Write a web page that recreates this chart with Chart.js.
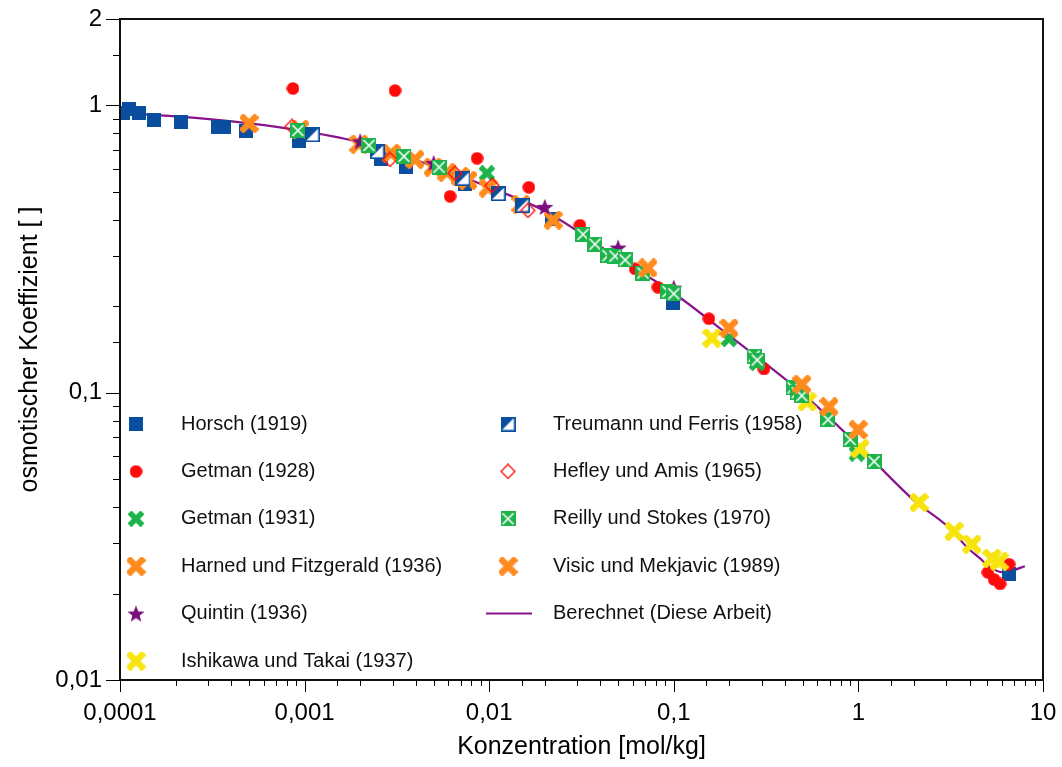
<!DOCTYPE html>
<html>
<head>
<meta charset="utf-8">
<script src="https://cdn.jsdelivr.net/npm/chart.js@4.4.1/dist/chart.umd.min.js"></script>
<style>
  body { margin: 0; background: #fff; }
  #wrap { width: 1062px; height: 767px; }
</style>
</head>
<body>
<div id="wrap"><canvas id="phiChart" width="1062" height="767"></canvas></div>
<script>
// Konzentration [mol/kg] / osmotischer Koeffizient
const horschConc = [1.04e-4, 1.12e-4, 1.27e-4, 1.53e-4, 2.14e-4, 3.4e-4, 3.66e-4, 4.82e-4, 9.3e-4, 2.6e-3, 3.54e-3, 7.4e-3, 0.0219, 0.099, 6.55];
const horschPhi  = [0.94, 0.97, 0.94, 0.89, 0.873, 0.84, 0.84, 0.813, 0.755, 0.649, 0.61, 0.532, 0.402, 0.205, 0.0233];

const getman28Conc = [8.65e-4, 3.09e-3, 6.14e-3, 8.6e-3, 0.0164, 0.031, 0.0617, 0.082, 0.155, 0.308, 5.03, 5.43, 5.85, 6.55];
const getman28Phi  = [1.146, 1.127, 0.483, 0.655, 0.519, 0.383, 0.27, 0.233, 0.181, 0.121, 0.0237, 0.0224, 0.0216, 0.0253];

const getman31Conc = [9.72e-3, 0.199, 0.283, 0.98];
const getman31Phi  = [0.581, 0.154, 0.127, 0.0614];

const harnedConc = [5.0e-4, 9.44e-4, 1.97e-3, 2.94e-3, 3.96e-3, 4.97e-3, 5.9e-3, 6.95e-3, 7.67e-3, 9.86e-3, 0.01486, 0.0222];
const harnedPhi  = [0.866, 0.826, 0.733, 0.681, 0.649, 0.61, 0.585, 0.566, 0.549, 0.516, 0.453, 0.399];

const quintinConc = [2.0e-3, 5.0e-3, 0.02, 0.0499, 0.1];
const quintinPhi  = [0.75, 0.63, 0.443, 0.32, 0.232];

const ishikawaConc = [0.161, 0.527, 1.02, 2.13, 3.3, 4.12, 5.29, 5.78];
const ishikawaPhi  = [0.155, 0.093, 0.064, 0.0415, 0.0329, 0.0297, 0.0265, 0.0259];

const treumannConc = [1.1e-3, 2.47e-3, 7.21e-3, 0.01117, 0.0151];
const treumannPhi  = [0.792, 0.692, 0.558, 0.494, 0.45];

const hefleyConc = [8.55e-4, 2.9e-3, 6.53e-3, 0.01035, 0.0162];
const hefleyPhi  = [0.845, 0.649, 0.581, 0.527, 0.431];

const reillyConc = [9.2e-4, 2.23e-3, 3.45e-3, 5.35e-3, 0.0322, 0.0374, 0.044, 0.048, 0.0545, 0.068, 0.093, 0.1, 0.272, 0.283, 0.443, 0.466, 0.494, 0.684, 0.902, 1.216];
const reillyPhi  = [0.818, 0.726, 0.665, 0.61, 0.356, 0.329, 0.3, 0.299, 0.29, 0.261, 0.225, 0.221, 0.134, 0.13, 0.104, 0.1, 0.0977, 0.0806, 0.0687, 0.0576];

const visicConc = [0.0724, 0.199, 0.494, 0.693, 0.996];
const visicPhi  = [0.272, 0.168, 0.107, 0.0894, 0.0744];

// Berechnet (Diese Arbeit)
const calcConc = [1e-4, 2e-4, 5e-4, 1e-3, 2e-3, 5e-3, 0.01, 0.02, 0.05, 0.1, 0.2, 0.5, 1, 2, 3.13, 3.87, 4.56, 5.16, 6.07, 6.88, 7.98];
const calcPhi  = [0.94, 0.916, 0.866, 0.813, 0.744, 0.614, 0.519, 0.429, 0.294, 0.222, 0.158, 0.0993, 0.0655, 0.0422, 0.0337, 0.029, 0.0265, 0.0247, 0.0237, 0.0241, 0.0249];

const xTickValues = [1e-4, 1e-3, 1e-2, 0.1, 1, 10];
const xTickLabels = ['0,0001', '0,001', '0,01', '0,1', '1', '10'];
const yTickValues = [0.01, 0.1, 1, 2];
const yTickLabels = ['0,01', '0,1', '1', '2'];

const BLUE = '#0a4f9f', RED = '#ff0a0a', GREEN = '#1db34b', ORANGE = '#ff8b1e';
const STAR = '#780f7c', YELLOW = '#f7e40f', LINE = '#86148a';

function pts(xs, ys) { return xs.map((x, i) => ({ x: x, y: ys[i] })); }

function marker(size, draw) {
  const c = document.createElement('canvas');
  c.width = size; c.height = size;
  draw(c.getContext('2d'), size);
  return c;
}
function cross(color, size, w) {
  return marker(size, (g, s) => {
    g.strokeStyle = color; g.lineWidth = w;
    g.beginPath();
    g.moveTo(1.5, 1.5); g.lineTo(s - 1.5, s - 1.5);
    g.moveTo(s - 1.5, 1.5); g.lineTo(1.5, s - 1.5);
    g.stroke();
  });
}
const mSquare = marker(14, (g, s) => { g.fillStyle = BLUE; g.fillRect(0, 0, s, s); });
const mCircle = marker(13, (g, s) => { g.fillStyle = RED; g.beginPath(); g.arc(s / 2, s / 2, s / 2 - 0.2, 0, Math.PI * 2); g.fill(); });
const mGreenX = cross(GREEN, 16, 5.5);
const mOrangeX = cross(ORANGE, 19, 6.5);
const mYellowX = cross(YELLOW, 19, 6.5);
const mStar = marker(18, (g, s) => {
  g.fillStyle = STAR; g.beginPath();
  for (let i = 0; i < 10; i++) {
    const r = i % 2 ? 3.8 : 9;
    const a = -Math.PI / 2 + i * Math.PI / 5;
    g.lineTo(s / 2 + r * Math.cos(a), s / 2 + 0.8 + r * Math.sin(a));
  }
  g.closePath(); g.fill();
});
const mHalf = marker(15, (g, s) => {
  g.fillStyle = '#fff'; g.fillRect(0, 0, s, s);
  g.fillStyle = BLUE; g.beginPath(); g.moveTo(0, 0); g.lineTo(s, 0); g.lineTo(0, s); g.closePath(); g.fill();
  g.strokeStyle = BLUE; g.lineWidth = 1.6; g.strokeRect(0.8, 0.8, s - 1.6, s - 1.6);
});
const mDiamond = marker(16, (g, s) => {
  g.strokeStyle = RED; g.lineWidth = 1.3; g.beginPath();
  g.moveTo(s / 2, 1); g.lineTo(s - 1, s / 2); g.lineTo(s / 2, s - 1); g.lineTo(1, s / 2);
  g.closePath(); g.stroke();
});
const mBoxX = marker(15, (g, s) => {
  g.fillStyle = GREEN; g.fillRect(0, 0, s, s);
  g.strokeStyle = '#fff'; g.lineWidth = 1.6; g.beginPath();
  g.moveTo(2, 2); g.lineTo(s - 2, s - 2); g.moveTo(s - 2, 2); g.lineTo(2, s - 2);
  g.stroke();
});

function pointSet(label, xs, ys, img) {
  return { label: label, data: pts(xs, ys), pointStyle: img, pointRadius: 6, pointHoverRadius: 6, showLine: false };
}

const datasets = [
  pointSet('Horsch (1919)', horschConc, horschPhi, mSquare),
  pointSet('Getman (1928)', getman28Conc, getman28Phi, mCircle),
  pointSet('Getman (1931)', getman31Conc, getman31Phi, mGreenX),
  pointSet('Harned und Fitzgerald (1936)', harnedConc, harnedPhi, mOrangeX),
  pointSet('Quintin (1936)', quintinConc, quintinPhi, mStar),
  pointSet('Ishikawa und Takai (1937)', ishikawaConc, ishikawaPhi, mYellowX),
  pointSet('Treumann und Ferris (1958)', treumannConc, treumannPhi, mHalf),
  pointSet('Hefley und Amis (1965)', hefleyConc, hefleyPhi, mDiamond),
  pointSet('Reilly und Stokes (1970)', reillyConc, reillyPhi, mBoxX),
  pointSet('Visic und Mekjavic (1989)', visicConc, visicPhi, mOrangeX),
  {
    label: 'Berechnet (Diese Arbeit)', data: pts(calcConc, calcPhi),
    showLine: true, borderColor: LINE, borderWidth: 2.2, pointRadius: 0,
    cubicInterpolationMode: 'monotone'
  }
];
// later datasets on top, line at the back
datasets.forEach((d, i) => { d.order = datasets.length - i; });
datasets[datasets.length - 1].order = 100;

function labelFor(values, labels, v) {
  const i = values.findIndex(t => Math.abs(Math.log10(t) - Math.log10(v)) < 1e-6);
  return i < 0 ? '' : labels[i];
}
function isDecade(v) {
  const l = Math.log10(v);
  return Math.abs(l - Math.round(l)) < 1e-6;
}

// legend drawn inside the plot, two columns
const legendEntries = [
  [mSquare, 'Horsch (1919)', 0, 0],
  [mCircle, 'Getman (1928)', 0, 1],
  [mGreenX, 'Getman (1931)', 0, 2],
  [mOrangeX, 'Harned und Fitzgerald (1936)', 0, 3],
  [mStar, 'Quintin (1936)', 0, 4],
  [mYellowX, 'Ishikawa und Takai (1937)', 0, 5],
  [mHalf, 'Treumann und Ferris (1958)', 1, 0],
  [mDiamond, 'Hefley und Amis (1965)', 1, 1],
  [mBoxX, 'Reilly und Stokes (1970)', 1, 2],
  [mOrangeX, 'Visic und Mekjavic (1989)', 1, 3],
  [null, 'Berechnet (Diese Arbeit)', 1, 4]
];
const innerLegend = {
  id: 'innerLegend',
  afterDatasetsDraw(chart) {
    const ctx = chart.ctx;
    const colMark = [136, 508], colText = [181, 553];
    ctx.save();
    ctx.font = '20px "Liberation Sans", Arial, sans-serif';
    ctx.fillStyle = '#111';
    ctx.textBaseline = 'middle';
    legendEntries.forEach(([img, text, col, row]) => {
      const y = 424 + row * 47.4;
      if (img) {
        ctx.drawImage(img, colMark[col] - img.width / 2, y - img.height / 2);
      } else {
        ctx.strokeStyle = LINE; ctx.lineWidth = 2;
        ctx.beginPath(); ctx.moveTo(486, y); ctx.lineTo(532, y); ctx.stroke();
      }
      ctx.fillText(text, colText[col], y);
    });
    ctx.restore();
  }
};

const frameTicks = {
  id: 'frameTicks',
  afterDraw(chart) {
    const { ctx, chartArea: a, scales: { x, y } } = chart;
    ctx.save();
    ctx.strokeStyle = '#000';
    ctx.lineWidth = 1;
    ctx.beginPath();
    x.ticks.forEach(t => {
      const px = Math.round(x.getPixelForValue(t.value)) + 0.5;
      ctx.moveTo(px, a.bottom); ctx.lineTo(px, a.bottom + (isDecade(t.value) ? 12 : 6));
    });
    y.ticks.forEach(t => {
      const py = Math.round(y.getPixelForValue(t.value)) + 0.5;
      const major = isDecade(t.value) || Math.abs(t.value - 2) < 1e-9;
      ctx.moveTo(a.left, py); ctx.lineTo(a.left - (major ? 14 : 7), py);
    });
    ctx.stroke();
    ctx.lineWidth = 2;
    ctx.strokeStyle = '#111';
    ctx.strokeRect(a.left, a.top, a.right - a.left, a.bottom - a.top);
    ctx.restore();
  }
};

Chart.defaults.font.family = '"Liberation Sans", Arial, sans-serif';
Chart.defaults.color = '#000';

// grid only reserves room for the tick marks; the marks themselves come from frameTicks
const hiddenGrid = { display: true, drawOnChartArea: false, drawTicks: true, tickLength: 14, tickColor: 'rgba(0,0,0,0)' };

new Chart(document.getElementById('phiChart'), {
  type: 'scatter',
  data: { datasets: datasets },
  options: {
    responsive: false,
    animation: false,
    events: [],
    layout: { padding: { top: 19, right: 19, left: 0, bottom: 0 } },
    plugins: { legend: { display: false }, tooltip: { enabled: false } },
    scales: {
      x: {
        type: 'logarithmic',
        min: 1e-4, max: 10,
        grid: hiddenGrid,
        border: { display: false },
        ticks: {
          autoSkip: false, maxRotation: 0, padding: 5,
          font: { size: 24 },
          callback: v => labelFor(xTickValues, xTickLabels, v)
        },
        title: { display: true, text: 'Konzentration [mol/kg]', font: { size: 25 }, padding: { top: 0, bottom: 5 } },
        afterFit: s => { s.height = 87; }
      },
      y: {
        type: 'logarithmic',
        min: 0.01, max: 2,
        grid: hiddenGrid,
        border: { display: false },
        ticks: {
          autoSkip: false, padding: 4,
          font: { size: 24 },
          callback: v => labelFor(yTickValues, yTickLabels, v)
        },
        title: { display: true, text: 'osmotischer Koeffizient [ ]', font: { size: 25 }, padding: { top: 15, bottom: 0 } },
        afterFit: s => { s.width = 120; }
      }
    }
  },
  plugins: [innerLegend, frameTicks]
});
</script>
</body>
</html>
